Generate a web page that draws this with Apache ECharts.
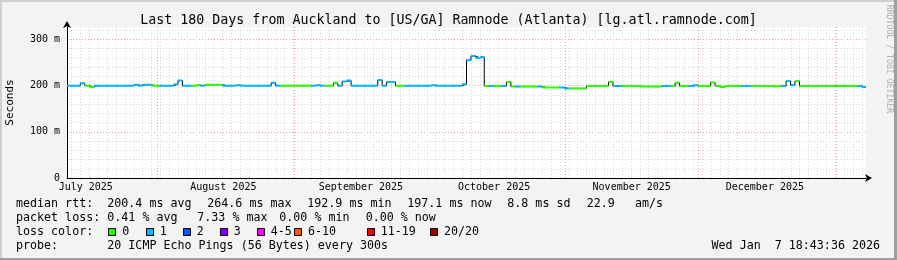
<!DOCTYPE html>
<html><head><meta charset="utf-8">
<script src="https://cdn.jsdelivr.net/npm/echarts@6/dist/echarts.min.js"></script>
<style>html,body{margin:0;padding:0;background:#f3f3f3}#c{width:897px;height:260px}</style>
</head><body><div id="c"></div><script>
// ---------- data ----------
const chartTitle = 'Last 180 Days from Auckland to [US/GA] Ramnode (Atlanta) [lg.atl.ramnode.com]';
const startTime = '2025-07-11T18:43:36Z';
const spanDays = 180;
const monthStarts = ['2025-08-01T00:00:00Z','2025-09-01T00:00:00Z','2025-10-01T00:00:00Z','2025-11-01T00:00:00Z','2025-12-01T00:00:00Z','2026-01-01T00:00:00Z'];
const monthLabelDates = ['2025-07-16T00:00:00Z','2025-08-16T00:00:00Z','2025-09-16T00:00:00Z','2025-10-16T00:00:00Z','2025-11-16T00:00:00Z','2025-12-16T00:00:00Z'];
const monthLabels = ['July 2025','August 2025','September 2025','October 2025','November 2025','December 2025'];
const minorGridFirst = '2025-07-12T20:00:00Z';
const yLabelValues = [0,100,200,300];
const yMajorGrid = [100,200,300];
const yMinorGrid = [0,20,40,60,80,100,120,140,160,180,200,220,240,260,280,300,320];
// median rtt per day (ms), day 0 starts at startTime
const rtt = [
 200,200,200,205,200,197,200,200,200,200,
 200,200,200,200,200,202,200,202,202,200,
 200,200,200,200,203,211,200,200,200,201,
 200,202,202,202,202,200,200,200,201,200,
 200,200,200,200,200,200,206,200,200,200,
 200,200,200,200,200,200,201,200,200,200,
 206,200,209,211,200,200,200,200,200,200,
 212,200,208,208,200,200,200,200,200,200,
 200,200,201,200,200,200,200,200,200,203,
 255,264,260,262,199,199,199,199,199,208,
 198,198,198,198,198,198,198,196,196,196,
 196,196,194,194,194,194,194,199,199,199,
 199,199,208,199,199,199,199,199,199,198,
 198,198,198,198,199,199,199,206,199,199,
 199,201,199,199,199,207,199,197,199,199,
 199,199,199,199,199,199,199,199,199,198,
 199,199,210,201,210,199,199,199,199,199,
 199,199,199,199,199,199,199,199,199,197
];
// lost pings per day (out of 20)
const loss = [
 1,1,1,1,0,0,1,1,1,1,
 1,1,1,1,1,1,1,1,1,0,
 0,1,1,1,1,1,1,1,0,0,
 1,0,0,0,0,1,1,1,1,1,
 1,1,1,1,1,1,1,1,0,0,
 0,0,0,0,0,1,1,1,0,0,
 0,1,1,1,1,1,1,1,1,1,
 1,1,1,1,0,0,1,1,1,1,
 1,1,1,1,1,1,1,1,1,1,
 1,1,1,1,0,1,0,0,1,0,
 0,1,0,0,0,0,1,0,0,0,
 0,1,1,0,0,0,0,0,0,0,
 0,0,0,1,1,0,0,0,0,0,
 0,0,0,0,1,1,0,0,0,0,
 1,1,0,0,0,0,0,0,0,0,
 0,0,1,1,0,0,0,0,0,0,
 0,1,1,1,0,0,0,0,0,0,
 0,0,0,0,0,0,0,0,1,1
];
const lossColors = ['#26ff00','#00b8ff','#0059ff','#7e00ff','#ff00ff','#ff5500','#ff0000','#a10000'];
const lossLabels = ['0','1','2','3','4-5','6-10','11-19','20/20'];
const statsRtt = ['median rtt:','200.4 ms avg','264.6 ms max','192.9 ms min','197.1 ms now','8.8 ms sd','22.9','am/s'];
const statsLoss = ['packet loss:','0.41 % avg','7.33 % max','0.00 % min','0.00 % now'];
const probeText = ['probe:','20 ICMP Echo Pings (56 Bytes) every 300s'];
const stampText = 'Wed Jan  7 18:43:36 2026';

// ---------- build ----------
const t0 = Date.parse(startTime);
const dayOf = s => (Date.parse(s) - t0) / 86400000;
const monthStartDays = monthStarts.map(dayOf);
const labelDays = monthLabelDates.map(dayOf);
const minorDays = [];
for (let d = dayOf(minorGridFirst); d < spanDays; d += 2) minorDays.push(d);

const blackLine = [];
rtt.forEach((v, d) => { blackLine.push([d, v]); blackLine.push([d + 1, v]); });
function bucket(n){ if(n<=3) return n; if(n<=5) return 4; if(n<=10) return 5; if(n<=19) return 6; return 7; }
const colorSeries = lossColors.map((c, b) => {
  const data = [];
  rtt.forEach((v, d) => {
    if (bucket(loss[d]) === b) { data.push([d, v]); data.push([d + 1, v]); data.push([d + 1, '-']); }
  });
  return { type:'line', xAxisIndex:0, yAxisIndex:0, data, showSymbol:false, symbol:'none',
    lineStyle:{ color:c, width:2 }, silent:true, z:4, animation:false };
});

const MONO = '"DejaVu Sans Mono", monospace';
const F = '11.66px ' + MONO;
const graphics = [];
function txt(x, y, s, extra){ graphics.push(Object.assign({ type:'text', x, y, silent:true,
  style:{ text:s, font:F, fill:'#000', verticalAlign:'middle' } }, extra || {})); }
// frame
graphics.push({type:'rect', shape:{x:0,y:0,width:897,height:2}, style:{fill:'#cfcfcf'}, silent:true});
graphics.push({type:'rect', shape:{x:0,y:0,width:2,height:260}, style:{fill:'#cfcfcf'}, silent:true});
graphics.push({type:'rect', shape:{x:0,y:258,width:897,height:2}, style:{fill:'#9e9e9e'}, silent:true});
graphics.push({type:'rect', shape:{x:894,y:0,width:3,height:260}, style:{fill:'#9e9e9e'}, silent:true});
// stats rows
[16,107.3,207.3,307.3,407.3,507.3,586.7,635].forEach((x,i)=>txt(x,204.3,statsRtt[i]));
[16,107.3,197.3,279.3,365.7].forEach((x,i)=>txt(x,218.3,statsLoss[i]));
txt(16,232.3,'loss color:');
[108.3,145.7,182.7,219.7,256.7,294,366.7,430].forEach((x,i)=>{
  graphics.push({type:'rect', silent:true, shape:{x:Math.round(x)+0.5,y:228.5,width:7,height:7},
    style:{fill:lossColors[i], stroke:'#000', lineWidth:1}});
  txt(x+14,232.3,lossLabels[i]);
});
txt(16,246,probeText[0]); txt(107.3,246,probeText[1]);
graphics.push({type:'text', x:880, y:246, silent:true, style:{text:stampText, font:F, fill:'#000', align:'right', verticalAlign:'middle'}});
graphics.push({type:'text', x:889, y:59, rotation:-Math.PI/2, silent:true,
  style:{text:'RRDTOOL / TOBI OETIKER', font:'8.2px '+MONO, fill:'#b0b0b0', align:'center', verticalAlign:'middle'}});

const chart = echarts.init(document.getElementById('c'), null, {renderer:'canvas'});
chart.setOption({
  animation:false,
  backgroundColor:'#f3f3f3',
  title:{ text:chartTitle, left:'center', top:9, textStyle:{ fontFamily:MONO, fontSize:13.3, fontWeight:'normal', color:'#000' } },
  grid:{ left:67, right:31, top:27, bottom:82, show:true, backgroundColor:'#ffffff', borderWidth:0, containLabel:false, outerBoundsMode:'none' },
  xAxis:[
    { type:'value', min:0, max:spanDays, position:'bottom',
      axisLine:{ show:true, onZero:false, lineStyle:{color:'#000', width:1}, symbol:['none','arrow'], symbolSize:[6,7], symbolOffset:[0,6] },
      axisTick:{ show:false, customValues:minorDays },
      splitLine:{ show:true, lineStyle:{ color:'#d6d6d6', type:[1,2], width:1 } },
      axisLabel:{ customValues:labelDays, formatter:(v)=>{ const i = labelDays.findIndex(d=>Math.abs(d-v)<1e-6); return i>=0?monthLabels[i]:''; },
        fontFamily:MONO, fontSize:10, color:'#000', margin:4 }, z:1 },
    { type:'value', min:0, max:spanDays, position:'bottom', show:true,
      axisLine:{show:false}, axisLabel:{show:false},
      axisTick:{ show:false, customValues:monthStartDays },
      splitLine:{ show:true, lineStyle:{ color:'#f0a0a0', type:[1,2], width:1 } } }
  ],
  yAxis:[
    { type:'value', min:0, max:327, name:'Seconds', nameLocation:'middle', nameGap:51, nameRotate:90,
      nameTextStyle:{ fontFamily:MONO, fontSize:11, color:'#000' },
      axisLine:{ show:true, onZero:false, lineStyle:{color:'#000', width:1}, symbol:['none','arrow'], symbolSize:[6,7], symbolOffset:[0,6] },
      axisTick:{ show:false, customValues:yMinorGrid },
      splitLine:{ show:true, lineStyle:{ color:'#d6d6d6', type:[1,2], width:1 } },
      axisLabel:{ customValues:yLabelValues, formatter:v=> v===0 ? '0' : v + ' m', fontFamily:MONO, fontSize:10, color:'#000', margin:7 } },
    { type:'value', min:0, max:327, show:true, axisLine:{show:false}, axisLabel:{show:false},
      axisTick:{ show:false, customValues:yMajorGrid },
      splitLine:{ show:true, lineStyle:{ color:'#f0a0a0', type:[1,2], width:1 } } }
  ],
  series:[
    { type:'line', xAxisIndex:0, yAxisIndex:0, data:blackLine, showSymbol:false, symbol:'none',
      lineStyle:{ color:'#000', width:1 }, silent:true, z:3 }
  ].concat(colorSeries),
  graphic:graphics
});
</script></body></html>
